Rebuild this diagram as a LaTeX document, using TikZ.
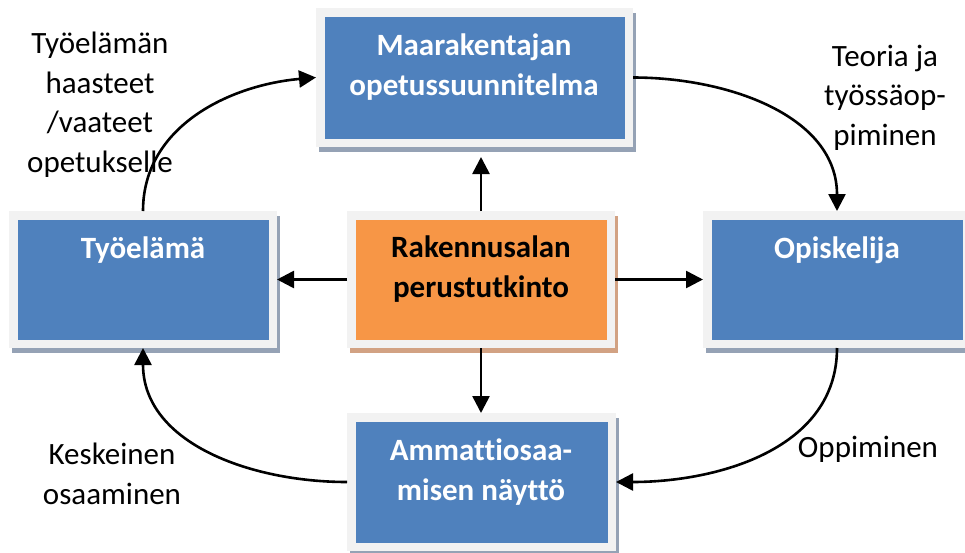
\documentclass[tikz,border=0pt]{standalone}
\usepackage{fontspec}
\setmainfont{Carlito}[Ligatures=NoCommon]
\usetikzlibrary{arrows.meta}
\definecolor{boxblue}{HTML}{4F81BD}
\definecolor{boxorange}{HTML}{F79646}
\definecolor{framegray}{HTML}{F2F2F2}
\definecolor{shadeblue}{HTML}{95A2B5}
\definecolor{shadeorange}{HTML}{D2A283}
\tikzset{
  card/.style={rectangle, fill=#1, draw=framegray, line width=8.5pt,
    outer sep=4.25pt, inner sep=0pt},
  cardtext/.style={anchor=base, align=center, font=\fontsize{31}{39.5}\selectfont\bfseries},
  lbl/.style={anchor=base, align=center, font=\fontsize{31}{39.5}\selectfont},
  flow/.style={line width=2.6pt, -{Triangle[length=17pt,width=17pt]}},
}
\begin{document}
\begin{tikzpicture}[x=1pt,y=-1pt]
\useasboundingbox (0,0) rectangle (965,552);

% drop shadows behind the boxes
\fill[shadeblue]   (319,13)  rectangle (636,152);
\fill[shadeblue]   (12,216)  rectangle (280,353);
\fill[shadeorange] (350,216) rectangle (618,353);
\fill[shadeblue]   (706,216) rectangle (974,353);
\fill[shadeblue]   (350,418) rectangle (619,556);

% boxes (outer edge given; the frame is drawn inside it)
\node[card=boxblue,   minimum width=308.5pt, minimum height=130.5pt] (ops)  at (474.5,77.5) {};
\node[card=boxblue,   minimum width=259.5pt, minimum height=128.5pt] (tyo)  at (143,279.5)  {};
\node[card=boxorange, minimum width=259.5pt, minimum height=128.5pt] (rak)  at (481,279.5)  {};
\node[card=boxblue,   minimum width=259.5pt, minimum height=128.5pt] (opi)  at (837,279.5)  {};
\node[card=boxblue,   minimum width=260.5pt, minimum height=129.5pt] (amm)  at (481.5,482)  {};

% box texts (anchored at the baseline of their last line)
\node[cardtext, text=white] (opsT) at (474,95)  {Maarakentajan\\opetussuunnitelma};
\node[cardtext, text=white] (tyoT) at (143,258) {Työelämä};
\node[cardtext, text=black] (rakT) at (481,297) {Rakennusalan\\perustutkinto};
\node[cardtext, text=white] (opiT) at (837,258) {Opiskelija};
\node[cardtext, text=white] (ammT) at (481,500) {Ammattiosaa-\\misen näyttö};

% labels of the cycle
\node[lbl] (l1) at (100,172) {Työelämän\\haasteet\\/vaateet\\opetukselle};
\node[lbl] (l2) at (885,145) {Teoria ja\\työssäop-\\piminen};
\node[lbl] (l3) at (112,504) {Keskeinen\\osaaminen};
\node[lbl] (l4) at (868,457) {Oppiminen};

% straight arrows from the centre
\draw[flow] (rak.north) -- ([yshift=-10pt]ops.south -| rak.north);
\draw[flow] (rak.west)  -- (tyo.east);
\draw[flow] (rak.east)  -- (opi.west);
\draw[flow] (rak.south) -- (amm.north -| rak.south);

% the cycle
\draw[flow] (tyo.north) to[out=90, in=185] (ops.west);
\draw[flow] (ops.east)  to[out=0, in=90]   (opi.north);
\draw[flow] (opi.south) to[out=-90, in=0]  (amm.east);
\draw[flow] (amm.west)  to[out=180, in=-90] (tyo.south);
\end{tikzpicture}
\end{document}
